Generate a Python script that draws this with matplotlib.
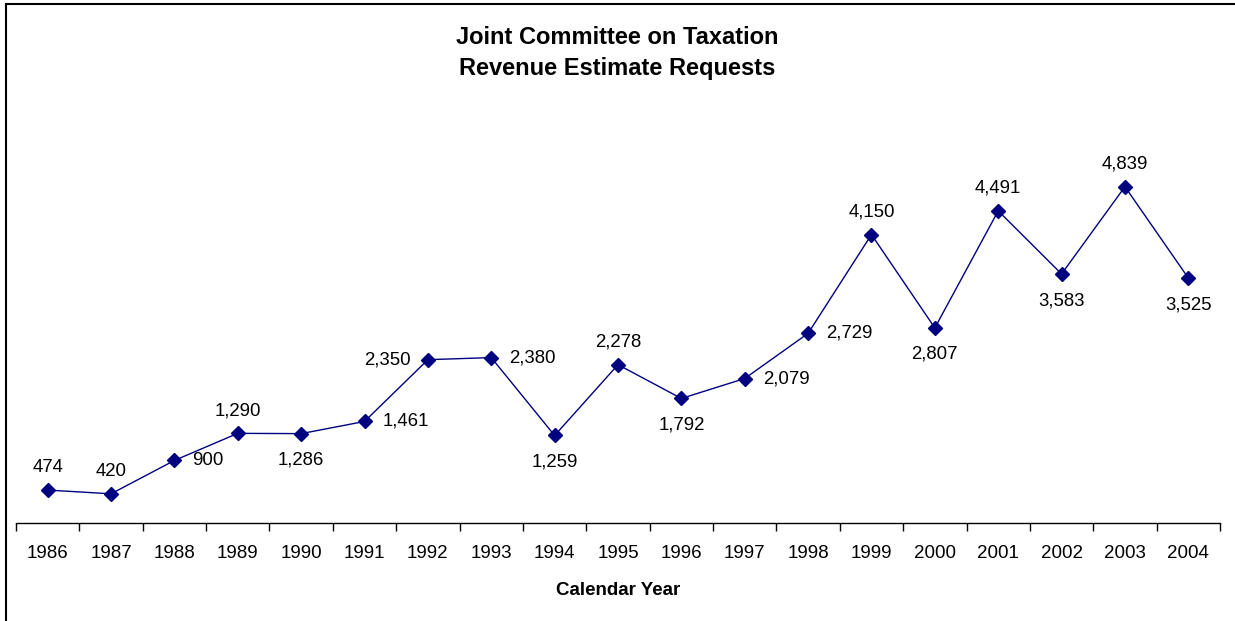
import numpy as np
import matplotlib.pyplot as plt
from matplotlib.lines import Line2D

plt.rcParams['font.family'] = ['Liberation Sans', 'DejaVu Sans']

years = ['1986', '1987', '1988', '1989', '1990', '1991', '1992', '1993', '1994', '1995',
         '1996', '1997', '1998', '1999', '2000', '2001', '2002', '2003', '2004']
requests = [474, 420, 900, 1290, 1286, 1461, 2350, 2380, 1259, 2278,
            1792, 2079, 2729, 4150, 2807, 4491, 3583, 4839, 3525]
# where each value label sits relative to its point
label_pos = ['above', 'above', 'right', 'above', 'below', 'right', 'left', 'right', 'below', 'above',
             'below', 'right', 'right', 'above', 'below', 'above', 'below', 'above', 'below']

fig = plt.figure(figsize=(12.35, 6.21), dpi=100)
ax = fig.add_axes([16 / 1235, 1 - 523 / 621, 1204 / 1235, (523 - 106) / 621])

x = np.arange(len(years))
ax.plot(x, requests, color='#000080', lw=1, marker='D', ms=7, mfc='#000080', mec='#000080')

offsets = {'above': (0, 10, 'center', 'bottom'), 'below': (0, -13, 'center', 'top'),
           'right': (13, 0, 'left', 'center'), 'left': (-12, 0, 'right', 'center')}
for xi, v, p in zip(x, requests, label_pos):
    dx, dy, ha, va = offsets[p]
    ax.annotate(f'{v:,}', (xi, v), xytext=(dx, dy), textcoords='offset points',
                ha=ha, va=va, fontsize=13.4)

ax.set_xlim(-0.5, len(years) - 0.5)
ax.set_ylim(0, 6000)
for s in ['top', 'right', 'left']:
    ax.spines[s].set_visible(False)
ax.spines['bottom'].set_linewidth(1)
ax.set_yticks([])
ax.set_xticks(np.arange(-0.5, len(years)), minor=False)
ax.set_xticklabels([])
ax.tick_params(axis='x', which='major', length=6, width=1, direction='out')
ax.set_xticks(x, minor=True)
ax.set_xticklabels(years, minor=True, fontsize=13.5)
ax.tick_params(axis='x', which='minor', length=0, pad=16)
ax.set_xlabel('Calendar Year', fontsize=13.5, fontweight='bold', labelpad=14)

fig.text(0.5, 1 - 38 / 621, 'Joint Committee on Taxation', ha='center', va='center',
         fontsize=17, fontweight='bold')
fig.text(0.5, 1 - 68 / 621, 'Revenue Estimate Requests', ha='center', va='center',
         fontsize=17, fontweight='bold')

# chart border (left and top edges)
fig.add_artist(Line2D([6 / 1235, 6 / 1235], [0, 1 - 4 / 621], color='black', lw=1.5))
fig.add_artist(Line2D([6 / 1235, 1], [1 - 4 / 621, 1 - 4 / 621], color='black', lw=1.5))

fig.savefig('out.png', dpi=100)
